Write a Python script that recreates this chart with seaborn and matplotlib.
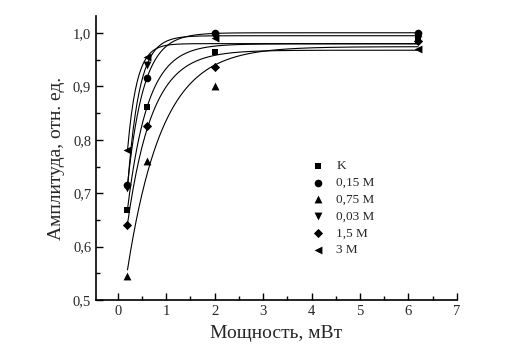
import numpy as np
import pandas as pd
import matplotlib
matplotlib.use('Agg')
import matplotlib.pyplot as plt
from matplotlib.ticker import MultipleLocator, FuncFormatter
import seaborn as sns

# данные
power = [0.2, 0.6, 2.0, 6.2]
labels = ['K', '0,15 M', '0,75 M', '0,03 M', '1,5 M', '3 M']
amp_k = [0.669, 0.862, 0.964, 0.990]
amp_015 = [0.715, 0.915, 1.000, 1.000]
amp_075 = [0.545, 0.760, 0.900, 1.000]
amp_003 = [0.710, 0.940, 0.995, 0.995]
amp_15 = [0.640, 0.825, 0.937, 0.985]
amp_3 = [0.780, 0.955, 0.990, 0.970]
markers = ['s', 'o', '^', 'v', 'D', '<']
sizes = [22, 30, 32, 32, 22, 32]

series = [amp_k, amp_015, amp_075, amp_003, amp_15, amp_3]

rows = []
for lab, vals in zip(labels, series):
    for x, y in zip(power, vals):
        rows.append({'power': x, 'amp': y, 'series': lab})
df = pd.DataFrame(rows)


# аппроксимация y = a - b*exp(-x/t)
def fit_exp(x, y):
    x = np.asarray(x)
    y = np.asarray(y)
    best = None
    for t in np.linspace(0.05, 3, 800):
        A = np.column_stack([np.ones_like(x), np.exp(-x / t)])
        coef = np.linalg.lstsq(A, y, rcond=None)[0]
        err = np.sum((A @ coef - y) ** 2)
        if best is None or err < best[0]:
            best = (err, coef, t)
    return best[1], best[2]


xs = np.linspace(0.2, 6.2, 300)
fit_rows = []
for lab, vals in zip(labels, series):
    coef, t = fit_exp(power, vals)
    ys = coef[0] + coef[1] * np.exp(-xs / t)
    for x, y in zip(xs, ys):
        fit_rows.append({'power': x, 'amp': y, 'series': lab})
fit_df = pd.DataFrame(fit_rows)

sns.set_style('ticks')
plt.rcParams['font.family'] = ['Liberation Serif', 'DejaVu Serif']

fig = plt.figure(figsize=(5.29, 3.6), dpi=100)
ax = fig.add_axes([0.1815, 0.1667, 0.682, 0.789])

sns.lineplot(data=fit_df, x='power', y='amp', units='series', estimator=None,
             color='black', linewidth=0.8, ax=ax, legend=False)

for lab, m, s in zip(labels, markers, sizes):
    sub = df[df['series'] == lab]
    sns.scatterplot(data=sub, x='power', y='amp', marker=m, s=s, color='black',
                    edgecolor='black', linewidth=0, ax=ax, label=lab, zorder=3)

ax.set_xlim(-0.45, 7)
ax.set_ylim(0.5, 1.032)
ax.xaxis.set_major_locator(MultipleLocator(1))
ax.xaxis.set_minor_locator(MultipleLocator(0.5))
ax.yaxis.set_major_locator(MultipleLocator(0.1))
ax.yaxis.set_minor_locator(MultipleLocator(0.05))
ax.yaxis.set_major_formatter(FuncFormatter(lambda v, p: f'{v:.1f}'.replace('.', ',')))
ax.tick_params(which='both', direction='in', labelsize=10.5, color='black', width=1)
ax.tick_params(which='major', length=5)
ax.tick_params(which='minor', length=3)
for sp in ['top', 'right']:
    ax.spines[sp].set_visible(False)
for sp in ['left', 'bottom']:
    ax.spines[sp].set_linewidth(1.2)
    ax.spines[sp].set_color('black')

ax.set_xlabel('Мощность, мВт', fontsize=14, labelpad=5)
ax.set_ylabel('Амплитуда, отн. ед.', fontsize=14, labelpad=6)

ax.legend(loc='upper left', bbox_to_anchor=(0.56, 0.535), frameon=False,
          fontsize=9.5, handletextpad=0.8, labelspacing=0.35, handlelength=1.2)

fig.savefig('out.png', dpi=100)
